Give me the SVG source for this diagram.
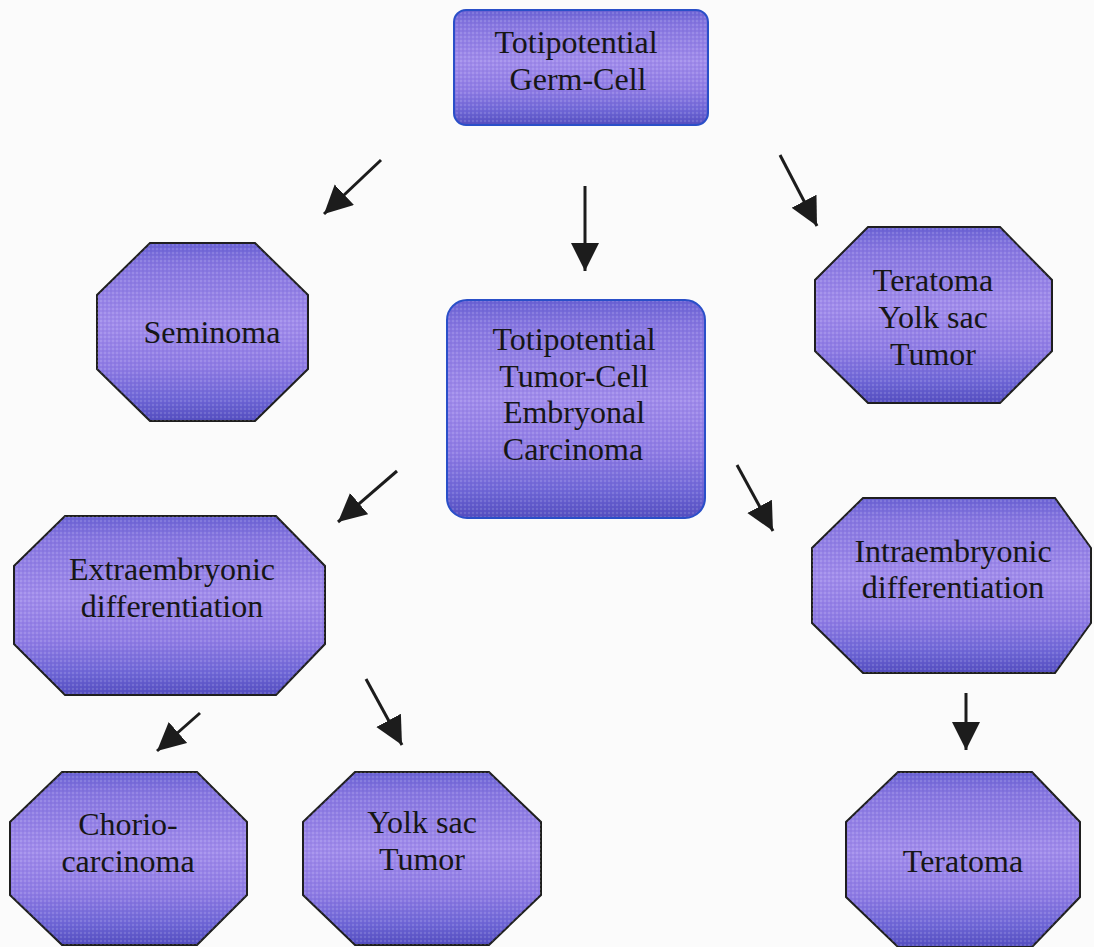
<svg xmlns="http://www.w3.org/2000/svg" width="1094" height="947" viewBox="0 0 1094 947">
  <defs>
    <linearGradient id="fill" x1="0" y1="0" x2="0" y2="1">
      <stop offset="0" stop-color="#6a62d4"/>
      <stop offset="0.12" stop-color="#8676e0"/>
      <stop offset="0.45" stop-color="#a08beb"/>
      <stop offset="0.7" stop-color="#8e7be4"/>
      <stop offset="0.88" stop-color="#6e66d6"/>
      <stop offset="1" stop-color="#544ec0"/>
    </linearGradient>
    <pattern id="dots" width="4" height="4" patternUnits="userSpaceOnUse">
      <circle cx="1" cy="1" r="0.8" fill="#ffffff" fill-opacity="0.28"/>
      <circle cx="3" cy="3" r="0.7" fill="#3a2f90" fill-opacity="0.18"/>
    </pattern>
    <marker id="head" markerUnits="userSpaceOnUse" markerWidth="30" markerHeight="30" refX="28" refY="14" orient="auto">
      <path d="M0,0 L28,14 L0,28 z" fill="#1c1c1c"/>
    </marker>
  </defs>
  <style>
    .oct { fill: url(#fill); stroke: #1e1e1e; stroke-width: 2; }
    .rr { fill: url(#fill); stroke: #2a4fc8; stroke-width: 2; }
    .tex { fill: url(#dots); stroke: none; }
    .lbl { font-family: "Liberation Serif", "Times New Roman", serif; font-size: 32px; fill: #161616; text-anchor: middle; }
    .arr { stroke: #1c1c1c; stroke-width: 3; fill: none; marker-end: url(#head); }
  </style>
  <rect x="0" y="0" width="1094" height="947" fill="#fbfbfb"/>

  <g id="germ-cell">
    <rect class="rr" x="454" y="10" width="254" height="115" rx="12"/>
    <rect class="tex" x="455" y="11" width="252" height="113" rx="12"/>
    <text class="lbl" x="576" y="53">Totipotential</text>
    <text class="lbl" x="578" y="90">Germ-Cell</text>
  </g>

  <g id="seminoma">
    <polygon class="oct" points="150,243 255,243 308,295 308,369 255,421 150,421 97,369 97,295"/>
    <polygon class="tex" points="150,243 255,243 308,295 308,369 255,421 150,421 97,369 97,295"/>
    <text class="lbl" x="212" y="343">Seminoma</text>
  </g>

  <g id="tumor-cell">
    <rect class="rr" x="447" y="300" width="258" height="218" rx="20"/>
    <rect class="tex" x="448" y="301" width="256" height="216" rx="20"/>
    <text class="lbl" x="574" y="350">Totipotential</text>
    <text class="lbl" x="574" y="387">Tumor-Cell</text>
    <text class="lbl" x="574" y="423">Embryonal</text>
    <text class="lbl" x="573" y="460">Carcinoma</text>
  </g>

  <g id="teratoma-yolk">
    <polygon class="oct" points="868,227 1000,227 1052,280 1052,351 1000,403 868,403 815,351 815,280"/>
    <polygon class="tex" points="868,227 1000,227 1052,280 1052,351 1000,403 868,403 815,351 815,280"/>
    <text class="lbl" x="933" y="291">Teratoma</text>
    <text class="lbl" x="933" y="328">Yolk sac</text>
    <text class="lbl" x="933" y="365">Tumor</text>
  </g>

  <g id="extraembryonic">
    <polygon class="oct" points="65,516 276,516 325,566 325,644 276,695 65,695 14,644 14,566"/>
    <polygon class="tex" points="65,516 276,516 325,566 325,644 276,695 65,695 14,644 14,566"/>
    <text class="lbl" x="172" y="580">Extraembryonic</text>
    <text class="lbl" x="172" y="617">differentiation</text>
  </g>

  <g id="intraembryonic">
    <polygon class="oct" points="863,498 1055,498 1091,548 1091,623 1055,673 863,673 812,623 812,548"/>
    <polygon class="tex" points="863,498 1055,498 1091,548 1091,623 1055,673 863,673 812,623 812,548"/>
    <text class="lbl" x="953" y="562">Intraembryonic</text>
    <text class="lbl" x="953" y="598">differentiation</text>
  </g>

  <g id="choriocarcinoma">
    <polygon class="oct" points="62,772 197,772 247,822 247,895 197,945 62,945 10,895 10,822"/>
    <polygon class="tex" points="62,772 197,772 247,822 247,895 197,945 62,945 10,895 10,822"/>
    <text class="lbl" x="128" y="835">Chorio-</text>
    <text class="lbl" x="128" y="872">carcinoma</text>
  </g>

  <g id="yolk-sac">
    <polygon class="oct" points="355,772 489,772 541,822 541,895 489,945 355,945 303,895 303,822"/>
    <polygon class="tex" points="355,772 489,772 541,822 541,895 489,945 355,945 303,895 303,822"/>
    <text class="lbl" x="422" y="833">Yolk sac</text>
    <text class="lbl" x="422" y="870">Tumor</text>
  </g>

  <g id="teratoma">
    <polygon class="oct" points="898,772 1032,772 1080,822 1080,897 1032,947 898,947 846,897 846,822"/>
    <polygon class="tex" points="898,772 1032,772 1080,822 1080,897 1032,947 898,947 846,897 846,822"/>
    <text class="lbl" x="963" y="872">Teratoma</text>
  </g>

  <g id="connectors">
    <line class="arr" x1="381" y1="160" x2="324" y2="214"/>
    <line class="arr" x1="585" y1="186" x2="585" y2="271"/>
    <line class="arr" x1="780" y1="155" x2="817" y2="226"/>
    <line class="arr" x1="397" y1="471" x2="338" y2="522"/>
    <line class="arr" x1="737" y1="465" x2="773" y2="531"/>
    <line class="arr" x1="200" y1="713" x2="157" y2="751"/>
    <line class="arr" x1="366" y1="679" x2="402" y2="745"/>
    <line class="arr" x1="966" y1="693" x2="966" y2="750"/>
  </g>
</svg>
